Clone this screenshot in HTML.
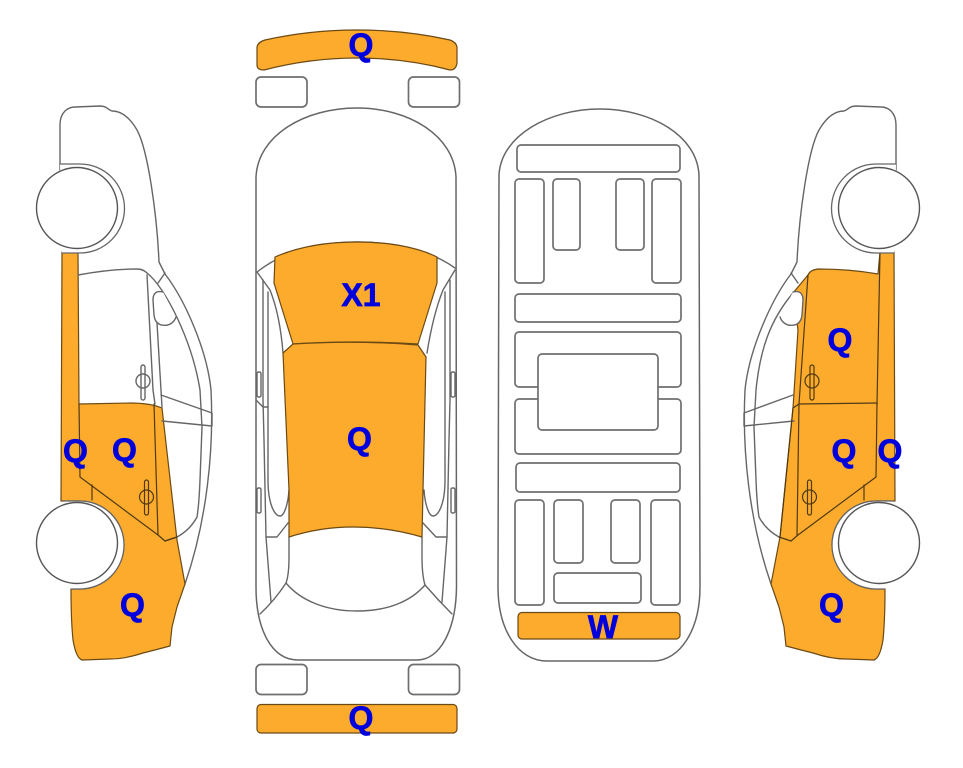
<!DOCTYPE html>
<html>
<head>
<meta charset="utf-8">
<style>
html,body{margin:0;padding:0;background:#fff;width:963px;height:768px;overflow:hidden}
svg{display:block}
.l{fill:none;stroke:#666;stroke-width:1.4;stroke-linejoin:round;stroke-linecap:round}
.r rect{fill:#fff;stroke:#6e6e6e;stroke-width:1.7}
.o{fill:#fdab2d;stroke:#6b4a14;stroke-width:1.2;stroke-linejoin:round}
.d{fill:none;stroke:#4f3a14;stroke-width:1.2;stroke-linecap:round;stroke-linejoin:round}
.w{fill:#fff;stroke:#666;stroke-width:1.3}
.t{fill:#fff;stroke:#555;stroke-width:1.4}
text{font-family:"Liberation Sans",sans-serif;font-weight:bold;font-size:32px;fill:#0000dd;stroke:#0000dd;stroke-width:.7;text-anchor:middle}
</style>
</head>
<body>
<svg width="963" height="768" viewBox="0 0 963 768" xmlns="http://www.w3.org/2000/svg">
<rect width="963" height="768" fill="#fff"/>

<!-- LEFT CAR -->
<g>
<path class="l" d="M60,170 L60,125 C60,112 68,107 75,107 L100,106 C107,106 108,110 112,111 C122,111 130,118 137,130 C148,150 157,215 159,262 L165,274 C185,300 207,350 211,390 C214,450 207,520 185,584"/>
<path class="o" d="M62,252 L78,252 L79,404 L130,403 Q150,403 162,408 L177,540 L185,584 L177,607 L172,627 L170,646 Q155,650 143,653 Q125,659 110,659 L82,660 Q76,658 73,640 Q71,620 71,589 L80,589 A44,44 0 0 0 80,501 L61,501 Z"/>
<path class="l" d="M78,275 Q110,269 137,269 Q143,269 147,273 C165,287 192,340 200,390 L202,427 L200,480 Q199,505 197,517 Q190,530 177,537 L165,541"/>
<path class="l" d="M147,275 L153,390 L155,404"/>
<path class="l" d="M165,273 L158,283"/>
<path class="l" d="M157,323 L162,407"/>
<path class="l" d="M161,395 L212,413 L212,426 L162,421"/>
<path class="l" style="fill:#fff" d="M163,292 C155,290 153,295 153,300 L154,315 C155,325 162,326 168,325 Q174,323 176,317"/>
<rect x="141" y="365" width="4" height="35" rx="2" class="l"/>
<ellipse cx="143" cy="381" rx="7" ry="7" class="l"/>
<path class="d" d="M79,404 L80,477 L158,535 L165,541 L177,537"/>
<path class="d" d="M92,485 L92,500"/>
<path class="d" d="M154,404 L158,535"/>
<rect x="144.500" y="480" width="4" height="35" rx="2" class="d"/>
<ellipse cx="146.500" cy="497" rx="7" ry="7" class="d"/>
<path class="w" d="M60,164 L80,164 A44.500,44.500 0 0 1 80,253 L62,253"/>
<path class="w" d="M63,501 L80,501 A44,44 0 0 1 80,589 L71,589"/>
<circle cx="77" cy="208" r="40.500" class="t"/>
<circle cx="77" cy="543" r="40.500" class="t"/>
</g>

<!-- RIGHT CAR -->
<g>
<path class="l" d="M896,170 L896,125 C896,112 888,107 881,107 L856,106 C849,106 848,110 844,111 C834,111 826,118 819,130 C808,150 799,215 797,262 L791,274"/>
<path class="l" d="M791,274 C771,300 749,350 745,390 C742,450 749,520 771,584"/>
<path class="o" d="M894,252 L880,252 L878,274 Q850,269 818,269 Q810,270 808,275 L793,293 L798,330 L793,408 L780,537 L771,584 L779,607 L784,627 L786,646 Q801,650 813,653 Q831,659 846,659 L874,660 Q880,658 883,640 Q885,620 885,589 L876,589 A44,44 0 0 1 876,501 L895,501 Z"/>
<path class="l" d="M791,273 L798,283"/>
<path class="l" d="M793,293 C770,320 760,350 756,390 L754,427 L756,480 Q757,505 759,517 Q766,530 779,537"/>
<path class="l" d="M793,395 L744,413 L744,426 L794,421"/>
<path class="l" style="fill:#fff" d="M793,292 C801,290 803,295 803,300 L802,315 C801,325 794,326 788,325 Q782,323 780,317"/>
<path class="d" d="M808,275 L799,404 L797,535"/>
<path class="d" d="M877,403 L876,477 L798,535 L791,541 L779,537"/>
<path class="d" d="M793,408 L799,404 L877,403"/>
<path class="d" d="M864,485 L864,500"/>
<path class="d" d="M793,408 L780,537"/>
<path class="d" d="M880,252 L877,404"/>
<rect x="810" y="365" width="4" height="35" rx="2" class="d"/>
<ellipse cx="812" cy="381" rx="7" ry="7" class="d"/>
<rect x="807.500" y="480" width="4" height="35" rx="2" class="d"/>
<ellipse cx="809.500" cy="497" rx="7" ry="7" class="d"/>
<path class="w" d="M896,164 L876,164 A44.500,44.500 0 0 0 876,253 L894,253"/>
<path class="w" d="M893,501 L876,501 A44,44 0 0 0 876,589 L885,589"/>
<circle cx="879" cy="208" r="40.500" class="t"/>
<circle cx="879" cy="543" r="40.500" class="t"/>
</g>

<!-- TOP VIEW -->
<g>
<path class="o" d="M257,47 Q258,42 265,40 Q310,30 357,30 Q405,30 450,40 Q456,42 457,47 L457,63 Q456,70 450,70 Q405,58 357,58 Q310,58 264,70 Q257,70 257,65 Z"/>
<g class="r">
<rect x="256" y="77" width="51" height="30" rx="5"/>
<rect x="408.500" y="77" width="51" height="30" rx="5"/>
<rect x="256" y="664.500" width="51" height="30" rx="5"/>
<rect x="408.500" y="664.500" width="51" height="30" rx="5"/>
</g>
<rect x="257" y="704.500" width="200" height="28.500" rx="4" class="o"/>
<path d="M256,177 C258,135 305,108 357,108 C408,108 454,135 456,177 L456.500,587 C456,630 440,660 417,660 L298,660 C272,660 256,630 256,587 Z" fill="#fff" stroke="#666" stroke-width="1.500"/>
<path class="l" d="M257,272 C285,250 320,242 357,242 C395,242 430,250 455,268"/>
<path class="l" d="M263,280 V400 L264,440 L266,537 L271,602"/>
<path class="l" d="M268,292 V480 C268,505 275,516 280,516 C284,516 288,505 289,490"/>
<path class="l" d="M450,280 V400 L449,440 L447,537 L442,602"/>
<path class="l" d="M445,292 V480 C445,505 438,516 433,516 C429,516 425,505 424,490"/>
<path class="l" d="M257,272 L270,290 Q280,315 283,353"/>
<path class="l" d="M455,270 L443,290 Q433,315 427,353"/>
<path class="l" d="M288,523 L277,537 L266,537"/>
<path class="l" d="M423,523 L436,537 L447,537"/>
<path class="l" d="M256,400 L263,407 L268,407"/>
<path class="l" d="M289,537 L289,557 Q289,575 286,583 C300,600 325,611 357,611 C390,611 412,600 425,585 Q422,575 422,557 L422,537"/>
<path class="l" d="M286,583 Q275,600 260,614"/>
<path class="l" d="M425,585 Q438,600 452,614"/>
<rect x="257" y="372" width="4" height="25" rx="1.500" class="l"/>
<rect x="257" y="488" width="4" height="25" rx="1.500" class="l"/>
<rect x="451" y="372" width="4" height="25" rx="1.500" class="l"/>
<rect x="451" y="488" width="4" height="25" rx="1.500" class="l"/>
<path class="o" d="M275,257 C300,246 330,242 357,242 C385,242 415,246 437,257 L437,283 L418,344 Q355,340 293,344 L274,283 Z"/>
<path class="o" d="M293,344 L283,353 L289,490 L289,537 Q320,527 353,527 Q388,527 422,537 L423,490 L426,357 L418,345 Q355,340 293,344 Z"/>
</g>

<!-- TRUNK / INTERIOR VIEW -->
<g>
<path d="M499,175 C501,135 550,109 600,109 C650,109 697,135 699,175 L700,587 C700,630 680,661 653,661 L547,661 C518,661 498,630 498,587 Z" fill="#fff" stroke="#666" stroke-width="1.500"/>
<g class="r">
<rect x="517" y="145" width="163" height="27" rx="4"/>
<rect x="515" y="179" width="29" height="104" rx="4"/>
<rect x="553" y="179" width="27" height="71" rx="4"/>
<rect x="616" y="179" width="28" height="71" rx="4"/>
<rect x="652" y="179" width="29" height="104" rx="4"/>
<rect x="515" y="294" width="166" height="28" rx="4"/>
<rect x="515" y="332" width="166" height="55" rx="4"/>
<rect x="515" y="399" width="166" height="55" rx="4"/>
<rect x="538" y="354" width="120" height="76" rx="4"/>
<rect x="516" y="463" width="164" height="29" rx="4"/>
<rect x="515" y="500" width="29" height="105" rx="4"/>
<rect x="554" y="500" width="29" height="63" rx="4"/>
<rect x="611" y="500" width="29" height="63" rx="4"/>
<rect x="651" y="500" width="29" height="105" rx="4"/>
<rect x="554" y="573" width="87" height="30" rx="4"/>
</g>
<rect x="518" y="612.500" width="162" height="26.500" rx="4" class="o"/>
</g>

<!-- LABELS -->
<text x="361" y="56">Q</text>
<text x="361" y="306">X1</text>
<text x="359.500" y="450">Q</text>
<text x="361" y="729">Q</text>
<text x="603" y="638">W</text>
<text x="75.500" y="462">Q</text>
<text x="124.500" y="461">Q</text>
<text x="132.500" y="616">Q</text>
<text x="840" y="351">Q</text>
<text x="844" y="462">Q</text>
<text x="890" y="462">Q</text>
<text x="831.500" y="616">Q</text>
</svg>
</body>
</html>
